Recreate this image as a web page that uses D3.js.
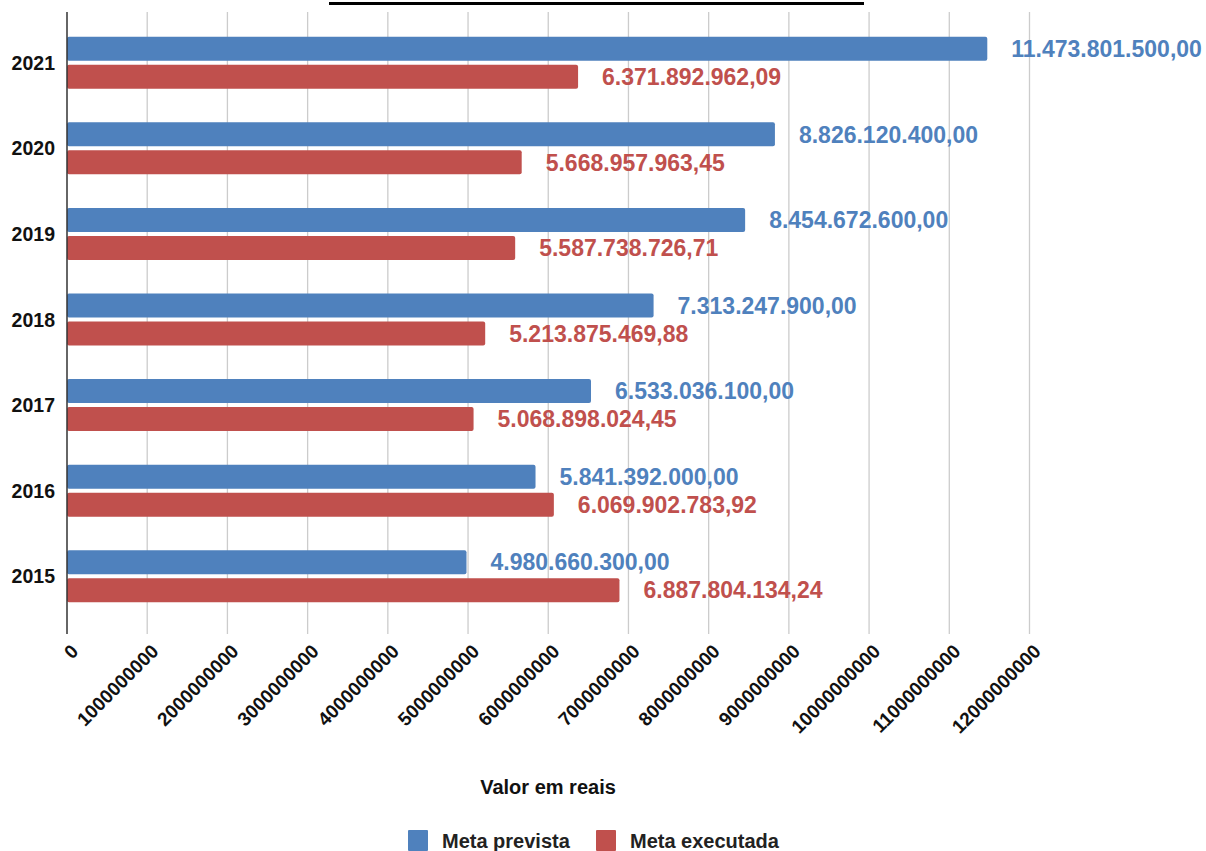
<!DOCTYPE html>
<html><head><meta charset="utf-8">
<script src="https://cdn.jsdelivr.net/npm/d3@7"></script>
<style>body{margin:0;background:#fff}svg{display:block;font-family:"Liberation Sans",Arial,sans-serif}</style>
</head><body>
<script>
const years = ["2021","2020","2019","2018","2017","2016","2015"];
const metaPrevista = [11473801500.00, 8826120400.00, 8454672600.00, 7313247900.00, 6533036100.00, 5841392000.00, 4980660300.00];
const metaExecutada = [6371892962.09, 5668957963.45, 5587738726.71, 5213875469.88, 5068898024.45, 6069902783.92, 6887804134.24];
const seriesNames = ["Meta prevista","Meta executada"];
const colors = ["#4f81bd","#c0504d"];
const xTicks = [0,1e9,2e9,3e9,4e9,5e9,6e9,7e9,8e9,9e9,10e9,11e9,12e9];

const W=1206,H=851;
const svg=d3.select("body").append("svg").attr("width",W).attr("height",H);
const x=d3.scaleLinear().domain([0,12e9]).range([67,1029.5]);
const y=d3.scaleBand().domain(years).range([20,619]);
const br=d3.formatLocale({decimal:",",thousands:".",grouping:[3],currency:["",""]});
const fmt=br.format(",.2f");

// title underline (title cut off at top)
svg.append("rect").attr("x",329).attr("y",2).attr("width",535).attr("height",3).attr("fill","#000");

// gridlines
svg.append("g").selectAll("line").data(xTicks.slice(1)).join("line")
  .attr("x1",d=>x(d)).attr("x2",d=>x(d)).attr("y1",12).attr("y2",634)
  .attr("stroke","#cccccc").attr("stroke-width",1.3);

const series=[metaPrevista,metaExecutada];
const bh=24, gap=4;
series.forEach((vals,si)=>{
  const g=svg.append("g");
  g.selectAll("rect").data(years).join("rect")
    .attr("x",x(0)).attr("width",(d,i)=>x(vals[i])-x(0))
    .attr("y",d=>{const c=y(d)+y.bandwidth()/2; return si===0?c-gap/2-bh:c+gap/2;})
    .attr("height",bh).attr("rx",2).attr("fill",colors[si]);
  g.selectAll("text").data(years).join("text")
    .attr("x",(d,i)=>x(vals[i])+24)
    .attr("y",d=>{const c=y(d)+y.bandwidth()/2; return (si===0?c-gap/2-bh/2:c+gap/2+bh/2);})
    .attr("dy","0.36em").attr("fill",colors[si]).attr("font-weight","bold").attr("font-size",23)
    .text((d,i)=>fmt(vals[i]));
});

// left axis line
svg.append("line").attr("x1",x(0)).attr("x2",x(0)).attr("y1",12).attr("y2",634).attr("stroke","#333").attr("stroke-width",1.5);

// year labels
svg.append("g").selectAll("text").data(years).join("text")
  .attr("x",55).attr("y",d=>y(d)+y.bandwidth()/2).attr("dy","0.36em")
  .attr("text-anchor","end").attr("font-weight","bold").attr("font-size",19.5).attr("fill","#111").text(d=>d);

// x tick labels rotated
svg.append("g").selectAll("text").data(xTicks).join("text")
  .attr("transform",d=>`translate(${x(d)+3},${643}) rotate(-45)`)
  .attr("text-anchor","end").attr("dy","0.7em").attr("font-weight","bold").attr("font-size",19).attr("fill","#111")
  .text(d=>d3.format("d")(d));

// axis title
svg.append("text").attr("x",548).attr("y",794).attr("text-anchor","middle")
  .attr("font-weight","bold").attr("font-size",20).attr("fill","#111").text("Valor em reais");

// legend
const leg=[{x:408},{x:596}];
seriesNames.forEach((n,i)=>{
  svg.append("rect").attr("x",leg[i].x).attr("y",830).attr("width",20).attr("height",21).attr("rx",1).attr("fill",colors[i]);
  svg.append("text").attr("x",leg[i].x+34).attr("y",848).attr("font-weight","bold").attr("font-size",20).attr("fill","#222").text(n);
});
</script>
</body></html>
